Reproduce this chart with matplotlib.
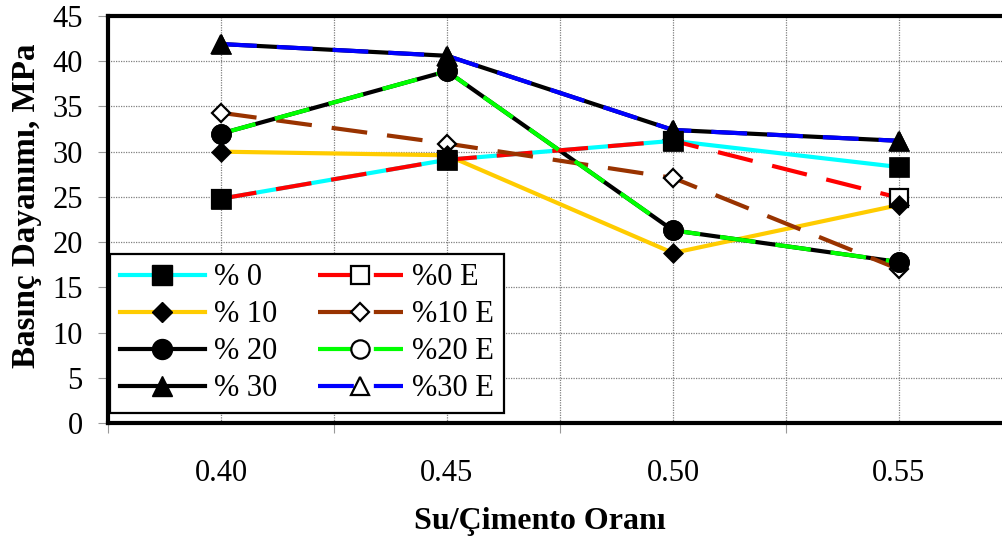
import matplotlib
matplotlib.use("Agg")
import matplotlib.pyplot as plt
from matplotlib.lines import Line2D
from matplotlib.ticker import FixedLocator, MultipleLocator
import numpy as np

# Water/cement ratios and compressive strength (MPa) per additive ratio
ratios = ["0.40", "0.45", "0.50", "0.55"]
s0 = [24.8, 29.1, 31.2, 28.3]
s10 = [30.0, 29.6, 18.8, 24.1]
s20 = [32.0, 38.9, 21.3, 17.8]
s30 = [41.9, 40.6, 32.4, 31.2]
s0e = [24.8, 29.1, 31.2, 24.9]
s10e = [34.3, 30.9, 27.1, 17.0]
s20e = [32.0, 38.9, 21.3, 17.8]
s30e = [41.9, 40.6, 32.4, 31.2]

solid_labels = ["% 0", "% 10", "% 20", "% 30"]
dashed_labels = ["%0 E", "%10 E", "%20 E", "%30 E"]

plt.rcParams["font.family"] = ["Liberation Serif", "DejaVu Serif"]

DPI = 100
W, H = 1003, 543
fig = plt.figure(figsize=(W / DPI, H / DPI), dpi=DPI)
fig.patch.set_facecolor("white")

# plot area in pixels: left 108, top 16, right 1012 (runs past the canvas), bottom 423
ax = fig.add_axes([108 / W, 1 - 423 / H, 904 / W, 407 / H])

x = np.arange(len(ratios))
LW = 3.0
DASH = (0, (8.6, 4.8))
MS = 14.4

solid_series = [
    (s0, "#00FFFF", "s"),
    (s10, "#FFCC00", "D"),
    (s20, "#000000", "o"),
    (s30, "#000000", "^"),
]
dashed_series = [
    (s0e, "#FF0000", "s"),
    (s10e, "#993300", "D"),
    (s20e, "#00FF00", "o"),
    (s30e, "#0000FF", "^"),
]


def msize(m, hollow=False):
    if m == "D":
        return 9.6 if hollow else 10.2
    return MS - 1.2 if hollow else MS


# solid lines underneath
for vals, col, m in solid_series:
    ax.plot(x, vals, color=col, lw=LW, solid_capstyle="butt", zorder=3)

# dashed lines with open markers above them
for vals, col, m in dashed_series:
    ax.plot(x, vals, color=col, lw=LW, linestyle=DASH, dash_capstyle="butt", zorder=4)
    ax.plot(x, vals, linestyle="none", marker=m, ms=msize(m, True),
            mfc="white", mec="black", mew=1.6, zorder=5)

# filled markers on top
for vals, col, m in solid_series:
    ax.plot(x, vals, linestyle="none", marker=m, ms=msize(m),
            mfc="black", mec="black", mew=0.5, zorder=6)

ax.set_xlim(-0.5, 3.5)
ax.set_ylim(0, 45)

# axes
ax.yaxis.set_major_locator(MultipleLocator(5))
ax.tick_params(axis="y", which="major", direction="out", length=7.2, width=0.8,
               color="#999999", labelsize=22, pad=11)
ax.xaxis.set_major_locator(FixedLocator(x))
ax.set_xticklabels(ratios)
ax.xaxis.set_minor_locator(FixedLocator(np.arange(-0.5, 4.0, 1.0)))
ax.tick_params(axis="x", which="major", length=0, labelsize=22, pad=26)
ax.tick_params(axis="x", which="minor", direction="out", length=7.2, width=0.8,
               color="#999999")

grid_kw = dict(color="#808080", linestyle=(0, (1, 1)), linewidth=0.9)
ax.grid(True, axis="x", which="both", **grid_kw)
ax.grid(True, axis="y", which="major", **grid_kw)
ax.set_axisbelow(True)

for side in ("left", "top", "bottom"):
    ax.spines[side].set_color("black")
    ax.spines[side].set_linewidth(3.0)
ax.spines["right"].set_visible(False)

# axis titles
fig.text(540 / W, 1 - 521 / H, "Su/Çimento Oranı", fontsize=23, fontweight="bold",
         ha="center", va="center")
fig.text(27 / W, 1 - 206 / H, "Basınç Dayanımı, MPa", fontsize=23.8, fontweight="bold",
         ha="center", va="center", rotation=90)

# legend
handles = []
for (vals, col, m), lab in zip(solid_series, solid_labels):
    handles.append(Line2D([], [], color=col, lw=LW, marker=m, ms=msize(m),
                          mfc="black", mec="black", label=lab))
for (vals, col, m), lab in zip(dashed_series, dashed_labels):
    handles.append(Line2D([], [], color=col, lw=LW, linestyle=DASH, marker=m,
                          ms=msize(m, True), mfc="white", mec="black", mew=1.6,
                          label=lab))

leg = ax.legend(handles=handles, ncol=2, loc="lower left",
                bbox_to_anchor=(110 / W, 1 - 413 / H), bbox_transform=fig.transFigure,
                borderaxespad=0, fontsize=22, handlelength=2.78, handletextpad=0.3,
                columnspacing=1.33, borderpad=0.32, labelspacing=0.26,
                fancybox=False, framealpha=1, edgecolor="black")
leg.get_frame().set_linewidth(1.6)
leg.set_zorder(10)

fig.savefig("out.png", dpi=DPI, facecolor="white")
